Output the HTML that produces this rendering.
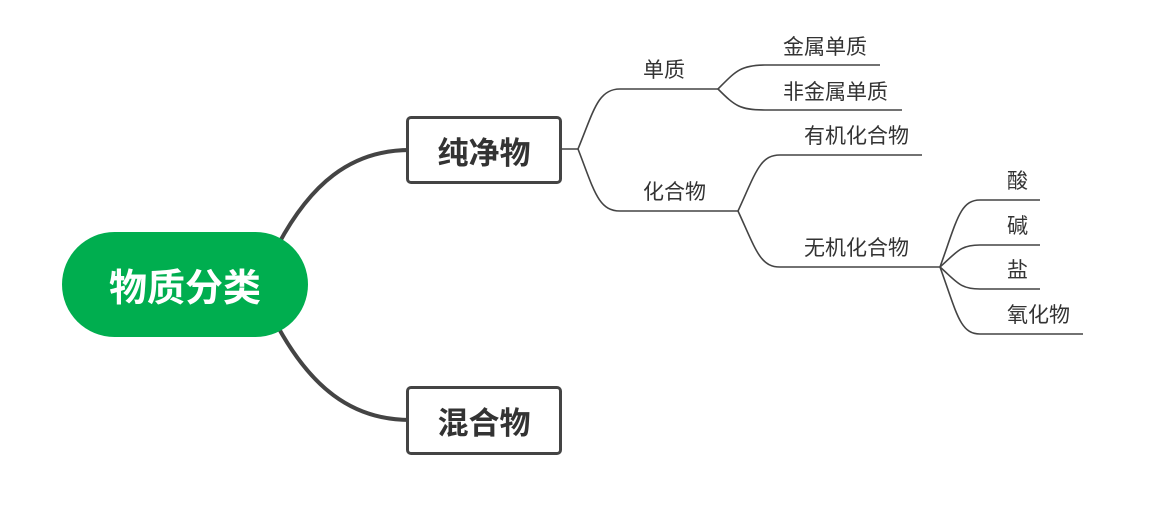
<!DOCTYPE html>
<html><head><meta charset="utf-8"><style>
body{margin:0;width:1159px;height:531px;background:#fff;overflow:hidden;position:relative;font-family:"Liberation Sans","Noto Sans CJK SC",sans-serif}
.t{position:absolute;font-size:21px;color:#333;line-height:24px;white-space:nowrap}
.box{position:absolute;box-sizing:border-box;border:3px solid #444;border-radius:5px;background:#fff;font-size:31px;font-weight:bold;color:#333;display:flex;align-items:center;justify-content:center}
</style></head><body>
<svg width="1159" height="531" style="position:absolute;left:0;top:0">
<g fill="none" stroke="#444" stroke-width="4">
<path d="M278 245 C310 185 350 150 410 150"/>
<path d="M278 327 C310 385 350 420 410 420"/>
</g>
<g fill="none" stroke="#444" stroke-width="1.6">
<path d="M560 149 L578 149"/>
<path d="M578 149 C594 110 598 89 620 89 L718 89"/>
<path d="M578 149 C594 190 598 211 620 211 L738 211"/>
<path d="M718 89 C735 72 740 65 765 65 L880 65"/>
<path d="M718 89 C735 106 740 110 765 110 L902 110"/>
<path d="M738 211 C756 172 760 155 780 155 L922 155"/>
<path d="M738 211 C756 250 760 267 780 267 L940 267"/>
<path d="M940 267 C957 220 960 200 980 200 L1040 200"/>
<path d="M940 267 C957 252 960 245 980 245 L1040 245"/>
<path d="M940 267 C957 282 960 289 980 289 L1040 289"/>
<path d="M940 267 C957 314 960 334 980 334 L1083 334"/>
</g>
</svg>
<div style="position:absolute;left:62px;top:232px;width:246px;height:105px;border-radius:53px;background:#00ae4f;color:#fff;font-size:38px;font-weight:bold;display:flex;align-items:center;justify-content:center">物质分类</div>
<div class="box" style="left:406px;top:116px;width:156px;height:68px">纯净物</div>
<div class="box" style="left:406px;top:386px;width:156px;height:69px">混合物</div>
<div class="t" style="left:643px;top:59px">单质</div>
<div class="t" style="left:643px;top:181px">化合物</div>
<div class="t" style="left:783px;top:36px">金属单质</div>
<div class="t" style="left:783px;top:81px">非金属单质</div>
<div class="t" style="left:804px;top:125px">有机化合物</div>
<div class="t" style="left:804px;top:237px">无机化合物</div>
<div class="t" style="left:1007px;top:170px">酸</div>
<div class="t" style="left:1007px;top:215px">碱</div>
<div class="t" style="left:1007px;top:259px">盐</div>
<div class="t" style="left:1007px;top:304px">氧化物</div>
</body></html>
